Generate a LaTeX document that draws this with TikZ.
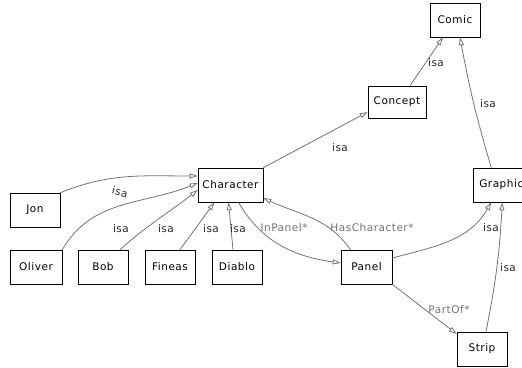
\documentclass[tikz,border=0pt]{standalone}
\usepackage{fontspec}
\setmainfont{DejaVu Sans}[LetterSpace=5]
\usetikzlibrary{arrows.meta}

\begin{document}
\begin{tikzpicture}[x=1pt,y=1pt,
    font=\fontsize{10.5}{12}\selectfont,
    concept/.style={draw=black, fill=white, line width=0.6pt, minimum width=50pt, minimum height=34pt, inner sep=1pt},
    isa/.style={draw=black!55, line width=0.8pt, -{Triangle[open, length=8pt, width=5pt]}},
    lbl/.style={text=black!85, inner sep=1pt},
    rel/.style={text=black!55, inner sep=1pt}]
				\useasboundingbox (0,0) rectangle (522,-367);
				
				\node[concept] (comic) at (455,-20) {Comic};
				\node[concept, minimum width=58pt, minimum height=32pt] (concept) at (397,-102) {Concept};
				\node[concept, minimum width=65pt] (character) at (230.5,-185) {Character};
				\node[concept, minimum width=56pt, anchor=west] (graphic) at (473,-185) {Graphic};
				\node[concept] (jon) at (35,-210) {Jon};
				\node[concept, minimum width=52pt] (oliver) at (36,-267) {Oliver};
				\node[concept] (bob) at (103,-267) {Bob};
				\node[concept] (fineas) at (170,-267) {Fineas};
				\node[concept] (diablo) at (237,-267) {Diablo};
				\node[concept, minimum width=51pt] (panel) at (366.5,-267) {Panel};
				\node[concept] (strip) at (482,-349) {Strip};
				
				% isa links
				\draw[isa] (concept.north) ++(13,0) -- ([xshift=-12pt]comic.south);
				\draw[isa] ([xshift=-10pt]graphic.north) to[bend left=3] ([xshift=5pt]comic.south);
				\draw[isa] (character.north east) -- ([yshift=-10pt]concept.west);
				\draw[isa] (jon.north east) to[out=22, in=180] ([yshift=9pt]character.west);
				\draw[isa] (oliver.north east) to[out=60, in=202] ([yshift=2pt]character.west);
				\draw[isa] ([xshift=17pt]bob.north) to[out=42, in=218] ([yshift=-5pt]character.west);
				\draw[isa] ([xshift=10pt]fineas.north) -- ([xshift=-16pt]character.south);
				\draw[isa] ([xshift=-4pt]diablo.north) -- ([xshift=-2pt]character.south);
				\draw[isa] ([yshift=9pt]panel.east) to[out=15, in=240] ([xshift=-10pt]graphic.south);
				\draw[isa] ([xshift=4pt]strip.north) to[bend right=4] ([xshift=1pt]graphic.south);
				
				% relations
				\draw[isa] ([xshift=8pt]character.south) to[out=-60, in=172] ([yshift=4pt]panel.west);
				\draw[isa] ([xshift=-16pt]panel.north) to[out=125, in=-25] ([yshift=-13pt]character.east);
				\draw[isa] (panel.south east) -- ([yshift=15pt]strip.west);
				
				\node[lbl] (l1) at (436,-63) {isa};
				\node[lbl] (l2) at (488,-104) {isa};
				\node[lbl] (l3) at (340,-148) {isa};
				\node[lbl, rotate=-15] (l4) at (120,-192) {isa};
				\node[lbl] (l5) at (121,-229) {isa};
				\node[lbl] (l6) at (166,-229) {isa};
				\node[lbl] (l7) at (211,-229) {isa};
				\node[lbl] (l8) at (238,-229) {isa};
				\node[rel] (l9) at (284,-228) {InPanel*};
				\node[rel] (l10) at (372,-228) {HasCharacter*};
				\node[lbl] (l11) at (491,-228) {isa};
				\node[lbl] (l12) at (508,-268) {isa};
				\node[rel] (l13) at (449,-310) {PartOf*};
			\end{tikzpicture}
\end{document}
